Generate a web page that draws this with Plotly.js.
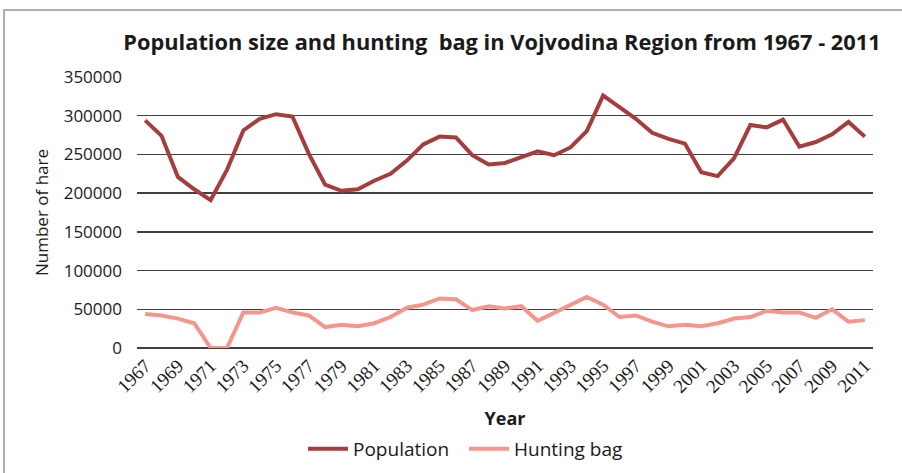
<!DOCTYPE html>
<html>
<head>
<meta charset="utf-8">
<script src="https://cdn.plot.ly/plotly-3.0.1.min.js"></script>
<style>
html,body{margin:0;padding:0;background:#fff;}
#frame{position:absolute;left:3px;top:9px;width:1000px;height:1000px;border-top:2px solid #b0b0b0;border-left:2px solid #b0b0b0;}
#chart{position:absolute;left:0;top:0;width:902px;height:473px;}
</style>
</head>
<body>
<div id="frame"></div>
<div id="chart"></div>
<script>
var years = [];
for (var y = 1967; y <= 2011; y++) years.push(y);
var population = [294000, 274000, 221000, 205000, 191000, 230000, 281000, 296000, 302000, 299000,
  251000, 211000, 203000, 205000, 216000, 225000, 242000, 263000, 273000, 272000,
  249000, 237000, 239000, 247000, 254000, 249000, 259000, 280000, 326000, 311000,
  296000, 278000, 270000, 264000, 227000, 222000, 245000, 288000, 285000, 295000,
  260000, 266000, 276000, 292000, 273000];
var huntingBag = [44000, 42000, 38000, 32000, 0, 0, 46000, 46000, 52000, 46000,
  42000, 27000, 30000, 28000, 32000, 40000, 52000, 56000, 64000, 63000,
  49000, 54000, 51000, 54000, 35000, 45000, 56000, 66000, 56000, 40000,
  42000, 34000, 28000, 30000, 28000, 32000, 38000, 40000, 48000, 46000,
  46000, 39000, 50000, 34000, 36000];
var tickYears = years.filter(function(v){ return (v - 1967) % 2 === 0; });
var yTicks = [0, 50000, 100000, 150000, 200000, 250000, 300000, 350000];

var traces = [
  {x: years, y: population, name: 'Population', type: 'scatter', mode: 'lines',
   line: {color: '#A63D3D', width: 4}},
  {x: years, y: huntingBag, name: 'Hunting bag', type: 'scatter', mode: 'lines',
   line: {color: '#F4968C', width: 4}}
];

var layout = {
  width: 902, height: 473,
  margin: {l: 137, r: 29, t: 77, b: 125, autoexpand: false},
  paper_bgcolor: 'rgba(0,0,0,0)',
  plot_bgcolor: 'rgba(0,0,0,0)',
  showlegend: true,
  title: {text: '<b>Population size and hunting  bag in Vojvodina Region from 1967 - 2011</b>',
    font: {family: 'Open Sans', size: 21.8, color: '#1a1a1a'},
    x: (502 - 137) / 736, xref: 'paper', xanchor: 'center', y: 1 - 42 / 473, yanchor: 'middle'},
  xaxis: {
    automargin: false,
    range: [1966.5, 2011.5], tickvals: tickYears, ticktext: tickYears.map(String),
    tickangle: -45, showgrid: false, zeroline: false, showline: false, ticks: '',
    ticklabelstandoff: 2,
    tickfont: {family: 'Liberation Serif', size: 19, color: '#1a1a1a'},
    title: {text: '<b>Year</b>', font: {family: 'Open Sans', size: 18, color: '#1a1a1a'}, standoff: 16}
  },
  yaxis: {
    automargin: false,
    range: [0, 350000], tickvals: yTicks, ticktext: yTicks.map(String),
    showgrid: true, gridcolor: '#404040', gridwidth: 1.5,
    zeroline: true, zerolinecolor: '#404040', zerolinewidth: 1.5, showline: false,
    ticks: '', ticklabelstandoff: 14,
    tickfont: {family: 'Open Sans', size: 17, color: '#1a1a1a'},
    title: {text: 'Number of hare', font: {family: 'Open Sans', size: 17, color: '#1a1a1a'}, standoff: 10}
  },
  legend: {orientation: 'h', xref: 'container', yref: 'container',
    x: 464 / 902, xanchor: 'center', y: 1 - 449 / 473, yanchor: 'middle',
    entrywidth: 106, entrywidthmode: 'pixels',
    font: {family: 'Open Sans', size: 19, color: '#1a1a1a'}, itemwidth: 40, tracegroupgap: 0}
};

Plotly.newPlot('chart', traces, layout, {displayModeBar: false, staticPlot: true});
</script>
</body>
</html>
